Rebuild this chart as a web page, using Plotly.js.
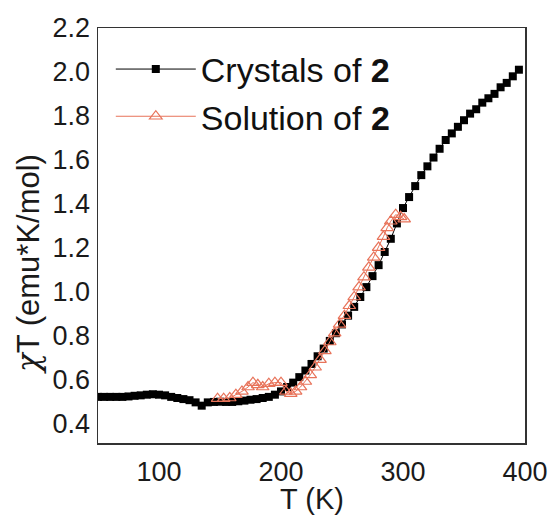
<!DOCTYPE html>
<html>
<head>
<meta charset="utf-8">
<script src="https://cdn.plot.ly/plotly-3.0.1.min.js"></script>
<style>html,body{margin:0;padding:0;background:#fff;}#chart{width:550px;height:518px;}</style>
</head>
<body>
<div id="chart"></div>
<script>
// Crystals of 2 (black squares)
const crystalT = [50,55,60,65,70,75,80,85,90,95,100,105,110,115,120,125,130,135,140,145,150,155,160,165,170,175,180,185,190,195,200,205,210,215,220,225,230,235,240,245,250,255,260,265,270,275,280,285,290,295,300,305,310,315,320,325,330,335,340,345,350,355,360,365,370,375,380,385,390,395];
const crystalChiT = [0.52,0.52,0.52,0.52,0.52,0.522,0.525,0.527,0.53,0.532,0.53,0.527,0.52,0.515,0.51,0.505,0.495,0.48,0.495,0.497,0.498,0.497,0.497,0.5,0.503,0.507,0.51,0.515,0.52,0.53,0.545,0.565,0.585,0.61,0.64,0.67,0.705,0.74,0.775,0.81,0.85,0.89,0.93,0.975,1.02,1.07,1.12,1.18,1.24,1.31,1.38,1.43,1.48,1.53,1.57,1.61,1.65,1.69,1.72,1.75,1.78,1.81,1.83,1.86,1.88,1.90,1.93,1.95,1.98,2.01];
// Solution of 2 (open triangles)
const solutionT = [148,153,158,163,168,173,177,181,185,190,195,200,204,208,212,216,220,224,228,232,236,240,244,248,252,256,260,264,268,272,276,280,284,287,290,294,298,301];
const solutionChiT = [0.512,0.512,0.515,0.53,0.545,0.565,0.585,0.575,0.565,0.58,0.585,0.585,0.545,0.535,0.545,0.565,0.59,0.62,0.655,0.69,0.73,0.77,0.81,0.85,0.89,0.935,0.975,1.02,1.065,1.11,1.155,1.2,1.25,1.29,1.32,1.35,1.34,1.33];
const seriesNames = ['Crystals of <b>2</b>', 'Solution of <b>2</b>'];
const xTicks = [100,200,300,400];
const yTicks = [0.4,0.6,0.8,1.0,1.2,1.4,1.6,1.8,2.0,2.2];

const FONT = 'Liberation Sans, Arial, sans-serif';
const traces = [
  {x: crystalT, y: crystalChiT, name: seriesNames[0], type: 'scatter', mode: 'lines+markers',
   line: {color: '#000', width: 1}, marker: {symbol: 'square', size: 8, color: '#000'}},
  {x: solutionT, y: solutionChiT, name: seriesNames[1], type: 'scatter', mode: 'lines+markers',
   line: {color: '#e8735a', width: 1}, marker: {symbol: 'triangle-up-open', size: 11, color: '#e8735a', line: {width: 1.2}}}
];
const layout = {
  width: 550, height: 518,
  margin: {l: 98, r: 25, t: 28, b: 75},
  paper_bgcolor: '#fff', plot_bgcolor: '#fff',
  font: {family: FONT, color: '#1a1a1a', size: 27},
  showlegend: true,
  legend: {x: 0.03, y: 0.97, xanchor: 'left', yanchor: 'top', bgcolor: 'rgba(0,0,0,0)',
           font: {size: 34, color: '#111', family: FONT}, itemwidth: 80, tracegroupgap: 0},
  xaxis: {range: [50, 400], tickvals: xTicks, ticks: '', showgrid: false, zeroline: false,
          showline: true, mirror: true, linecolor: '#333', linewidth: 1.5,
          ticklabelstandoff: 4, tickfont: {size: 27}},
  yaxis: {range: [0.31, 2.2], tickvals: yTicks, tickformat: '.1f', ticks: '', showgrid: false, zeroline: false,
          showline: true, mirror: true, linecolor: '#333', linewidth: 1.5,
          ticklabelstandoff: 1, tickfont: {size: 27}},
  annotations: [
    {text: '<span style="font-family:DejaVu Serif;font-style:italic">χ</span>T (emu*K/mol)', xref: 'paper', yref: 'paper', x: -0.165, y: 0.43,
     xanchor: 'center', yanchor: 'middle', textangle: -90, showarrow: false,
     font: {size: 31, color: '#1a1a1a', family: FONT}},
    {text: 'T (K)', xref: 'paper', yref: 'paper', x: 0.5, y: -0.135,
     xanchor: 'center', yanchor: 'middle', showarrow: false,
     font: {size: 29, color: '#1a1a1a', family: FONT}}
  ]
};
Plotly.newPlot('chart', traces, layout, {displayModeBar: false, staticPlot: true});
</script>
</body>
</html>
